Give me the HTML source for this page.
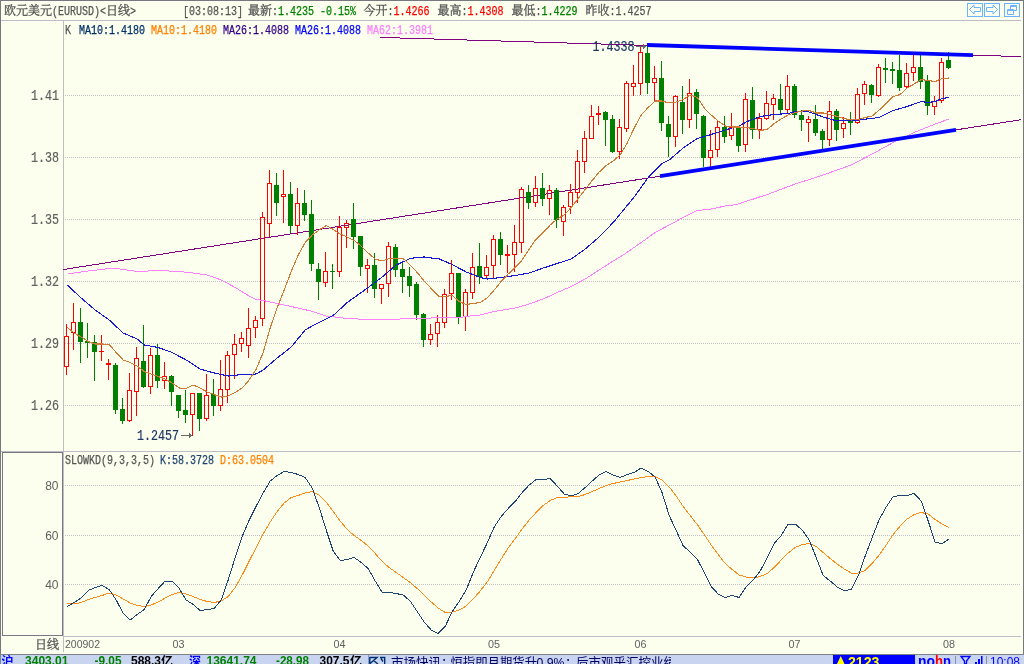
<!DOCTYPE html>
<html lang="zh-CN"><head><meta charset="utf-8"><title>欧元美元(EURUSD) 日线</title>
<style>
html,body{margin:0;padding:0;background:#FCFEEE;width:1024px;height:664px;overflow:hidden}
svg{display:block;position:absolute;left:0;top:0}
text{white-space:pre}
.m12{font-family:"Liberation Mono",monospace;font-size:12px;stroke-width:.25px}
.m14{font-family:"Liberation Mono",monospace;font-size:14px;stroke-width:.2px}
.c12{font-family:"Liberation Serif","Noto Serif CJK SC",serif;font-size:12px;stroke-width:.3px}
.c13{font-family:"Liberation Sans","Noto Sans CJK SC",sans-serif;font-size:12.5px}
.cb12{font-family:"Liberation Sans","Noto Sans CJK SC",sans-serif;font-size:12px;font-weight:bold}
.a12{font-family:"Liberation Sans",sans-serif;font-size:12px}
.a11{font-family:"Liberation Sans",sans-serif;font-size:11px}
.b12{font-family:"Liberation Sans",sans-serif;font-size:12px;font-weight:bold}
.b13{font-family:"Liberation Sans",sans-serif;font-size:13px;font-weight:bold}
.b14{font-family:"Liberation Sans",sans-serif;font-size:14px;font-weight:bold}
</style></head><body>
<svg width="1024" height="664" viewBox="0 0 1024 664">
<rect width="1024" height="664" fill="#FCFEEE"/>
<g shape-rendering="crispEdges">
<rect x="0" y="0" width="1024" height="1" fill="#77777F"/>
<rect x="0" y="0" width="1" height="655" fill="#77777F"/>
<rect x="1023" y="0" width="1" height="655" fill="#77777F"/>
<rect x="1" y="20" width="1020" height="1" fill="#BDBDC5"/>
<rect x="1" y="451" width="1020" height="1" fill="#BDBDC5"/>
<rect x="63" y="636" width="958" height="1" fill="#BDBDC5"/>
<rect x="63" y="21" width="1" height="631" fill="#BDBDC5"/>
<rect x="2.5" y="452.5" width="60" height="183" fill="none" stroke="#77777F" stroke-width="1"/>
<line x1="65" y1="95.5" x2="1021" y2="95.5" stroke="#C0C0C8" stroke-width="1" stroke-dasharray="1 1"/>
<line x1="65" y1="157.5" x2="1021" y2="157.5" stroke="#C0C0C8" stroke-width="1" stroke-dasharray="1 1"/>
<line x1="65" y1="219.5" x2="1021" y2="219.5" stroke="#C0C0C8" stroke-width="1" stroke-dasharray="1 1"/>
<line x1="65" y1="281.5" x2="1021" y2="281.5" stroke="#C0C0C8" stroke-width="1" stroke-dasharray="1 1"/>
<line x1="65" y1="343.5" x2="1021" y2="343.5" stroke="#C0C0C8" stroke-width="1" stroke-dasharray="1 1"/>
<line x1="65" y1="405.5" x2="1021" y2="405.5" stroke="#C0C0C8" stroke-width="1" stroke-dasharray="1 1"/>
<line x1="65" y1="485.5" x2="1021" y2="485.5" stroke="#C0C0C8" stroke-width="1" stroke-dasharray="1 1"/>
<line x1="65" y1="535.5" x2="1021" y2="535.5" stroke="#C0C0C8" stroke-width="1" stroke-dasharray="1 1"/>
<line x1="65" y1="584.5" x2="1021" y2="584.5" stroke="#C0C0C8" stroke-width="1" stroke-dasharray="1 1"/>
</g>
<g shape-rendering="crispEdges" fill="none">
<line x1="63.5" y1="269.5" x2="1021" y2="119.7" stroke="#800080" stroke-width="1"/>
<line x1="380" y1="37.4" x2="1021" y2="56.6" stroke="#800080" stroke-width="1"/>
</g>
<g shape-rendering="crispEdges">
<rect x="66" y="324" width="1" height="12" fill="#FF0000"/>
<rect x="66" y="367" width="1" height="8" fill="#FF0000"/>
<rect x="64.5" y="336.5" width="4" height="30" fill="none" stroke="#FF0000"/>
<rect x="73" y="303" width="1" height="19" fill="#FF0000"/>
<rect x="73" y="333" width="1" height="17" fill="#FF0000"/>
<rect x="71.5" y="322.5" width="4" height="10" fill="none" stroke="#FF0000"/>
<rect x="80" y="308" width="1" height="55" fill="#008000"/>
<rect x="78" y="322" width="5" height="20" fill="#008000"/>
<rect x="87" y="323" width="1" height="35" fill="#008000"/>
<rect x="85" y="341" width="5" height="2" fill="#008000"/>
<rect x="94" y="335" width="1" height="46" fill="#008000"/>
<rect x="92" y="342" width="5" height="10" fill="#008000"/>
<rect x="101" y="335" width="1" height="16" fill="#FF0000"/>
<rect x="101" y="352" width="1" height="9" fill="#FF0000"/>
<rect x="99" y="351" width="5" height="1" fill="#FF0000"/>
<rect x="108" y="359" width="1" height="4" fill="#FF0000"/>
<rect x="108" y="365" width="1" height="15" fill="#FF0000"/>
<rect x="106" y="363" width="5" height="2" fill="#FF0000"/>
<rect x="115" y="363" width="1" height="51" fill="#008000"/>
<rect x="113" y="365" width="5" height="45" fill="#008000"/>
<rect x="122" y="398" width="1" height="26" fill="#008000"/>
<rect x="120" y="409" width="5" height="12" fill="#008000"/>
<rect x="129" y="373" width="1" height="17" fill="#FF0000"/>
<rect x="129" y="421" width="1" height="1" fill="#FF0000"/>
<rect x="127.5" y="390.5" width="4" height="30" fill="none" stroke="#FF0000"/>
<rect x="136" y="347" width="1" height="11" fill="#FF0000"/>
<rect x="136" y="392" width="1" height="24" fill="#FF0000"/>
<rect x="134.5" y="358.5" width="4" height="33" fill="none" stroke="#FF0000"/>
<rect x="143" y="325" width="1" height="63" fill="#008000"/>
<rect x="141" y="361" width="5" height="26" fill="#008000"/>
<rect x="150" y="348" width="1" height="7" fill="#FF0000"/>
<rect x="150" y="387" width="1" height="7" fill="#FF0000"/>
<rect x="148.5" y="355.5" width="4" height="31" fill="none" stroke="#FF0000"/>
<rect x="157" y="344" width="1" height="44" fill="#008000"/>
<rect x="155" y="355" width="5" height="26" fill="#008000"/>
<rect x="164" y="362" width="1" height="14" fill="#FF0000"/>
<rect x="164" y="381" width="1" height="8" fill="#FF0000"/>
<rect x="162.5" y="376.5" width="4" height="4" fill="none" stroke="#FF0000"/>
<rect x="171" y="375" width="1" height="31" fill="#008000"/>
<rect x="169" y="376" width="5" height="16" fill="#008000"/>
<rect x="178" y="395" width="1" height="23" fill="#008000"/>
<rect x="176" y="395" width="5" height="16" fill="#008000"/>
<rect x="185" y="390" width="1" height="33" fill="#008000"/>
<rect x="183" y="410" width="5" height="5" fill="#008000"/>
<rect x="192" y="415" width="1" height="21" fill="#FF0000"/>
<rect x="190.5" y="393.5" width="4" height="21" fill="none" stroke="#FF0000"/>
<rect x="199" y="393" width="1" height="38" fill="#008000"/>
<rect x="197" y="393" width="5" height="26" fill="#008000"/>
<rect x="206" y="374" width="1" height="21" fill="#FF0000"/>
<rect x="206" y="419" width="1" height="2" fill="#FF0000"/>
<rect x="204.5" y="395.5" width="4" height="23" fill="none" stroke="#FF0000"/>
<rect x="213" y="379" width="1" height="37" fill="#008000"/>
<rect x="211" y="394" width="5" height="12" fill="#008000"/>
<rect x="220" y="360" width="1" height="29" fill="#FF0000"/>
<rect x="220" y="406" width="1" height="5" fill="#FF0000"/>
<rect x="218.5" y="389.5" width="4" height="16" fill="none" stroke="#FF0000"/>
<rect x="227" y="351" width="1" height="4" fill="#FF0000"/>
<rect x="227" y="390" width="1" height="13" fill="#FF0000"/>
<rect x="225.5" y="355.5" width="4" height="34" fill="none" stroke="#FF0000"/>
<rect x="234" y="334" width="1" height="10" fill="#FF0000"/>
<rect x="234" y="355" width="1" height="24" fill="#FF0000"/>
<rect x="232.5" y="344.5" width="4" height="10" fill="none" stroke="#FF0000"/>
<rect x="241" y="332" width="1" height="6" fill="#FF0000"/>
<rect x="241" y="344" width="1" height="8" fill="#FF0000"/>
<rect x="239.5" y="338.5" width="4" height="5" fill="none" stroke="#FF0000"/>
<rect x="248" y="308" width="1" height="20" fill="#FF0000"/>
<rect x="248" y="346" width="1" height="12" fill="#FF0000"/>
<rect x="246.5" y="328.5" width="4" height="17" fill="none" stroke="#FF0000"/>
<rect x="255" y="316" width="1" height="4" fill="#FF0000"/>
<rect x="255" y="328" width="1" height="10" fill="#FF0000"/>
<rect x="253.5" y="320.5" width="4" height="7" fill="none" stroke="#FF0000"/>
<rect x="262" y="212" width="1" height="5" fill="#FF0000"/>
<rect x="262" y="319" width="1" height="7" fill="#FF0000"/>
<rect x="260.5" y="217.5" width="4" height="101" fill="none" stroke="#FF0000"/>
<rect x="269" y="170" width="1" height="13" fill="#FF0000"/>
<rect x="269" y="224" width="1" height="13" fill="#FF0000"/>
<rect x="267.5" y="183.5" width="4" height="40" fill="none" stroke="#FF0000"/>
<rect x="276" y="173" width="1" height="43" fill="#008000"/>
<rect x="274" y="185" width="5" height="18" fill="#008000"/>
<rect x="283" y="170" width="1" height="24" fill="#FF0000"/>
<rect x="283" y="197" width="1" height="26" fill="#FF0000"/>
<rect x="281.5" y="194.5" width="4" height="2" fill="none" stroke="#FF0000"/>
<rect x="290" y="182" width="1" height="51" fill="#008000"/>
<rect x="288" y="194" width="5" height="32" fill="#008000"/>
<rect x="297" y="188" width="1" height="15" fill="#FF0000"/>
<rect x="297" y="226" width="1" height="9" fill="#FF0000"/>
<rect x="295.5" y="203.5" width="4" height="22" fill="none" stroke="#FF0000"/>
<rect x="304" y="190" width="1" height="31" fill="#008000"/>
<rect x="302" y="203" width="5" height="12" fill="#008000"/>
<rect x="311" y="200" width="1" height="71" fill="#008000"/>
<rect x="309" y="214" width="5" height="50" fill="#008000"/>
<rect x="318" y="263" width="1" height="37" fill="#008000"/>
<rect x="316" y="269" width="5" height="13" fill="#008000"/>
<rect x="325" y="252" width="1" height="19" fill="#FF0000"/>
<rect x="325" y="283" width="1" height="4" fill="#FF0000"/>
<rect x="323.5" y="271.5" width="4" height="11" fill="none" stroke="#FF0000"/>
<rect x="332" y="264" width="1" height="25" fill="#008000"/>
<rect x="330" y="271" width="5" height="1" fill="#008000"/>
<rect x="339" y="216" width="1" height="11" fill="#FF0000"/>
<rect x="339" y="272" width="1" height="5" fill="#FF0000"/>
<rect x="337.5" y="227.5" width="4" height="44" fill="none" stroke="#FF0000"/>
<rect x="346" y="220" width="1" height="3" fill="#FF0000"/>
<rect x="346" y="228" width="1" height="20" fill="#FF0000"/>
<rect x="344.5" y="223.5" width="4" height="4" fill="none" stroke="#FF0000"/>
<rect x="353" y="203" width="1" height="46" fill="#008000"/>
<rect x="351" y="219" width="5" height="18" fill="#008000"/>
<rect x="360" y="236" width="1" height="40" fill="#008000"/>
<rect x="358" y="236" width="5" height="31" fill="#008000"/>
<rect x="367" y="259" width="1" height="6" fill="#FF0000"/>
<rect x="367" y="269" width="1" height="24" fill="#FF0000"/>
<rect x="365.5" y="265.5" width="4" height="3" fill="none" stroke="#FF0000"/>
<rect x="374" y="253" width="1" height="45" fill="#008000"/>
<rect x="372" y="265" width="5" height="24" fill="#008000"/>
<rect x="381" y="289" width="1" height="15" fill="#FF0000"/>
<rect x="379.5" y="284.5" width="4" height="4" fill="none" stroke="#FF0000"/>
<rect x="388" y="242" width="1" height="4" fill="#FF0000"/>
<rect x="388" y="284" width="1" height="13" fill="#FF0000"/>
<rect x="386.5" y="246.5" width="4" height="37" fill="none" stroke="#FF0000"/>
<rect x="395" y="244" width="1" height="33" fill="#008000"/>
<rect x="393" y="247" width="5" height="23" fill="#008000"/>
<rect x="402" y="262" width="1" height="31" fill="#008000"/>
<rect x="400" y="269" width="5" height="8" fill="#008000"/>
<rect x="409" y="267" width="1" height="30" fill="#008000"/>
<rect x="407" y="276" width="5" height="10" fill="#008000"/>
<rect x="416" y="282" width="1" height="38" fill="#008000"/>
<rect x="414" y="284" width="5" height="31" fill="#008000"/>
<rect x="423" y="313" width="1" height="34" fill="#008000"/>
<rect x="421" y="314" width="5" height="26" fill="#008000"/>
<rect x="430" y="324" width="1" height="10" fill="#FF0000"/>
<rect x="430" y="340" width="1" height="5" fill="#FF0000"/>
<rect x="428.5" y="334.5" width="4" height="5" fill="none" stroke="#FF0000"/>
<rect x="437" y="315" width="1" height="7" fill="#FF0000"/>
<rect x="437" y="334" width="1" height="13" fill="#FF0000"/>
<rect x="435.5" y="322.5" width="4" height="11" fill="none" stroke="#FF0000"/>
<rect x="444" y="289" width="1" height="5" fill="#FF0000"/>
<rect x="444" y="323" width="1" height="5" fill="#FF0000"/>
<rect x="442.5" y="294.5" width="4" height="28" fill="none" stroke="#FF0000"/>
<rect x="451" y="260" width="1" height="13" fill="#FF0000"/>
<rect x="451" y="294" width="1" height="6" fill="#FF0000"/>
<rect x="449.5" y="273.5" width="4" height="20" fill="none" stroke="#FF0000"/>
<rect x="458" y="273" width="1" height="51" fill="#008000"/>
<rect x="456" y="273" width="5" height="44" fill="#008000"/>
<rect x="465" y="289" width="1" height="3" fill="#FF0000"/>
<rect x="465" y="317" width="1" height="14" fill="#FF0000"/>
<rect x="463.5" y="292.5" width="4" height="24" fill="none" stroke="#FF0000"/>
<rect x="472" y="253" width="1" height="14" fill="#FF0000"/>
<rect x="472" y="293" width="1" height="6" fill="#FF0000"/>
<rect x="470.5" y="267.5" width="4" height="25" fill="none" stroke="#FF0000"/>
<rect x="479" y="243" width="1" height="41" fill="#008000"/>
<rect x="477" y="266" width="5" height="11" fill="#008000"/>
<rect x="486" y="255" width="1" height="12" fill="#FF0000"/>
<rect x="486" y="276" width="1" height="3" fill="#FF0000"/>
<rect x="484.5" y="267.5" width="4" height="8" fill="none" stroke="#FF0000"/>
<rect x="493" y="235" width="1" height="4" fill="#FF0000"/>
<rect x="493" y="266" width="1" height="12" fill="#FF0000"/>
<rect x="491.5" y="239.5" width="4" height="26" fill="none" stroke="#FF0000"/>
<rect x="500" y="232" width="1" height="33" fill="#008000"/>
<rect x="498" y="239" width="5" height="16" fill="#008000"/>
<rect x="507" y="245" width="1" height="9" fill="#FF0000"/>
<rect x="507" y="256" width="1" height="17" fill="#FF0000"/>
<rect x="505" y="254" width="5" height="2" fill="#FF0000"/>
<rect x="514" y="225" width="1" height="17" fill="#FF0000"/>
<rect x="514" y="255" width="1" height="17" fill="#FF0000"/>
<rect x="512.5" y="242.5" width="4" height="12" fill="none" stroke="#FF0000"/>
<rect x="521" y="187" width="1" height="2" fill="#FF0000"/>
<rect x="521" y="243" width="1" height="10" fill="#FF0000"/>
<rect x="519.5" y="189.5" width="4" height="53" fill="none" stroke="#FF0000"/>
<rect x="528" y="185" width="1" height="24" fill="#008000"/>
<rect x="526" y="192" width="5" height="11" fill="#008000"/>
<rect x="535" y="176" width="1" height="12" fill="#FF0000"/>
<rect x="535" y="203" width="1" height="4" fill="#FF0000"/>
<rect x="533.5" y="188.5" width="4" height="14" fill="none" stroke="#FF0000"/>
<rect x="542" y="173" width="1" height="33" fill="#008000"/>
<rect x="540" y="188" width="5" height="11" fill="#008000"/>
<rect x="549" y="185" width="1" height="5" fill="#FF0000"/>
<rect x="549" y="199" width="1" height="16" fill="#FF0000"/>
<rect x="547.5" y="190.5" width="4" height="8" fill="none" stroke="#FF0000"/>
<rect x="556" y="188" width="1" height="40" fill="#008000"/>
<rect x="554" y="190" width="5" height="30" fill="#008000"/>
<rect x="563" y="205" width="1" height="2" fill="#FF0000"/>
<rect x="563" y="222" width="1" height="14" fill="#FF0000"/>
<rect x="561.5" y="207.5" width="4" height="14" fill="none" stroke="#FF0000"/>
<rect x="570" y="184" width="1" height="8" fill="#FF0000"/>
<rect x="570" y="207" width="1" height="7" fill="#FF0000"/>
<rect x="568.5" y="192.5" width="4" height="14" fill="none" stroke="#FF0000"/>
<rect x="577" y="150" width="1" height="11" fill="#FF0000"/>
<rect x="577" y="193" width="1" height="10" fill="#FF0000"/>
<rect x="575.5" y="161.5" width="4" height="31" fill="none" stroke="#FF0000"/>
<rect x="584" y="131" width="1" height="7" fill="#FF0000"/>
<rect x="584" y="162" width="1" height="11" fill="#FF0000"/>
<rect x="582.5" y="138.5" width="4" height="23" fill="none" stroke="#FF0000"/>
<rect x="591" y="105" width="1" height="11" fill="#FF0000"/>
<rect x="589.5" y="116.5" width="4" height="22" fill="none" stroke="#FF0000"/>
<rect x="598" y="106" width="1" height="7" fill="#FF0000"/>
<rect x="598" y="115" width="1" height="10" fill="#FF0000"/>
<rect x="596" y="113" width="5" height="2" fill="#FF0000"/>
<rect x="605" y="111" width="1" height="35" fill="#008000"/>
<rect x="603" y="112" width="5" height="8" fill="#008000"/>
<rect x="612" y="115" width="1" height="38" fill="#008000"/>
<rect x="610" y="119" width="5" height="33" fill="#008000"/>
<rect x="619" y="119" width="1" height="8" fill="#FF0000"/>
<rect x="619" y="152" width="1" height="7" fill="#FF0000"/>
<rect x="617.5" y="127.5" width="4" height="24" fill="none" stroke="#FF0000"/>
<rect x="626" y="81" width="1" height="2" fill="#FF0000"/>
<rect x="626" y="129" width="1" height="3" fill="#FF0000"/>
<rect x="624.5" y="83.5" width="4" height="45" fill="none" stroke="#FF0000"/>
<rect x="633" y="65" width="1" height="18" fill="#FF0000"/>
<rect x="633" y="87" width="1" height="9" fill="#FF0000"/>
<rect x="631.5" y="83.5" width="4" height="3" fill="none" stroke="#FF0000"/>
<rect x="640" y="47" width="1" height="5" fill="#FF0000"/>
<rect x="640" y="84" width="1" height="11" fill="#FF0000"/>
<rect x="638.5" y="52.5" width="4" height="31" fill="none" stroke="#FF0000"/>
<rect x="647" y="45" width="1" height="49" fill="#008000"/>
<rect x="645" y="53" width="5" height="30" fill="#008000"/>
<rect x="654" y="66" width="1" height="12" fill="#FF0000"/>
<rect x="654" y="83" width="1" height="18" fill="#FF0000"/>
<rect x="652.5" y="78.5" width="4" height="4" fill="none" stroke="#FF0000"/>
<rect x="661" y="61" width="1" height="70" fill="#008000"/>
<rect x="659" y="78" width="5" height="45" fill="#008000"/>
<rect x="668" y="116" width="1" height="41" fill="#008000"/>
<rect x="666" y="124" width="5" height="13" fill="#008000"/>
<rect x="675" y="95" width="1" height="1" fill="#FF0000"/>
<rect x="675" y="137" width="1" height="10" fill="#FF0000"/>
<rect x="673.5" y="96.5" width="4" height="40" fill="none" stroke="#FF0000"/>
<rect x="682" y="86" width="1" height="48" fill="#008000"/>
<rect x="680" y="102" width="5" height="18" fill="#008000"/>
<rect x="689" y="79" width="1" height="14" fill="#FF0000"/>
<rect x="689" y="120" width="1" height="8" fill="#FF0000"/>
<rect x="687.5" y="93.5" width="4" height="26" fill="none" stroke="#FF0000"/>
<rect x="696" y="89" width="1" height="40" fill="#008000"/>
<rect x="694" y="92" width="5" height="22" fill="#008000"/>
<rect x="703" y="115" width="1" height="52" fill="#008000"/>
<rect x="701" y="116" width="5" height="42" fill="#008000"/>
<rect x="710" y="130" width="1" height="20" fill="#FF0000"/>
<rect x="710" y="158" width="1" height="9" fill="#FF0000"/>
<rect x="708.5" y="150.5" width="4" height="7" fill="none" stroke="#FF0000"/>
<rect x="717" y="121" width="1" height="6" fill="#FF0000"/>
<rect x="717" y="150" width="1" height="7" fill="#FF0000"/>
<rect x="715.5" y="127.5" width="4" height="22" fill="none" stroke="#FF0000"/>
<rect x="724" y="116" width="1" height="27" fill="#008000"/>
<rect x="722" y="127" width="5" height="10" fill="#008000"/>
<rect x="731" y="113" width="1" height="14" fill="#FF0000"/>
<rect x="731" y="136" width="1" height="4" fill="#FF0000"/>
<rect x="729.5" y="127.5" width="4" height="8" fill="none" stroke="#FF0000"/>
<rect x="738" y="127" width="1" height="25" fill="#008000"/>
<rect x="736" y="128" width="5" height="18" fill="#008000"/>
<rect x="745" y="93" width="1" height="6" fill="#FF0000"/>
<rect x="745" y="145" width="1" height="7" fill="#FF0000"/>
<rect x="743.5" y="99.5" width="4" height="45" fill="none" stroke="#FF0000"/>
<rect x="752" y="87" width="1" height="52" fill="#008000"/>
<rect x="750" y="100" width="5" height="30" fill="#008000"/>
<rect x="759" y="113" width="1" height="5" fill="#FF0000"/>
<rect x="759" y="130" width="1" height="9" fill="#FF0000"/>
<rect x="757.5" y="118.5" width="4" height="11" fill="none" stroke="#FF0000"/>
<rect x="766" y="91" width="1" height="12" fill="#FF0000"/>
<rect x="766" y="119" width="1" height="1" fill="#FF0000"/>
<rect x="764.5" y="103.5" width="4" height="15" fill="none" stroke="#FF0000"/>
<rect x="773" y="94" width="1" height="4" fill="#FF0000"/>
<rect x="773" y="105" width="1" height="15" fill="#FF0000"/>
<rect x="771.5" y="98.5" width="4" height="6" fill="none" stroke="#FF0000"/>
<rect x="780" y="84" width="1" height="31" fill="#008000"/>
<rect x="778" y="99" width="5" height="11" fill="#008000"/>
<rect x="787" y="75" width="1" height="11" fill="#FF0000"/>
<rect x="787" y="110" width="1" height="4" fill="#FF0000"/>
<rect x="785.5" y="86.5" width="4" height="23" fill="none" stroke="#FF0000"/>
<rect x="794" y="84" width="1" height="34" fill="#008000"/>
<rect x="792" y="86" width="5" height="29" fill="#008000"/>
<rect x="801" y="110" width="1" height="21" fill="#008000"/>
<rect x="799" y="115" width="5" height="5" fill="#008000"/>
<rect x="808" y="116" width="1" height="3" fill="#FF0000"/>
<rect x="808" y="123" width="1" height="19" fill="#FF0000"/>
<rect x="806.5" y="119.5" width="4" height="3" fill="none" stroke="#FF0000"/>
<rect x="815" y="105" width="1" height="31" fill="#008000"/>
<rect x="813" y="119" width="5" height="14" fill="#008000"/>
<rect x="822" y="129" width="1" height="20" fill="#008000"/>
<rect x="820" y="131" width="5" height="9" fill="#008000"/>
<rect x="829" y="101" width="1" height="10" fill="#FF0000"/>
<rect x="829" y="140" width="1" height="6" fill="#FF0000"/>
<rect x="827.5" y="111.5" width="4" height="28" fill="none" stroke="#FF0000"/>
<rect x="836" y="109" width="1" height="32" fill="#008000"/>
<rect x="834" y="111" width="5" height="19" fill="#008000"/>
<rect x="843" y="117" width="1" height="6" fill="#FF0000"/>
<rect x="843" y="129" width="1" height="9" fill="#FF0000"/>
<rect x="841.5" y="123.5" width="4" height="5" fill="none" stroke="#FF0000"/>
<rect x="850" y="112" width="1" height="23" fill="#008000"/>
<rect x="848" y="121" width="5" height="2" fill="#008000"/>
<rect x="857" y="88" width="1" height="6" fill="#FF0000"/>
<rect x="857" y="123" width="1" height="1" fill="#FF0000"/>
<rect x="855.5" y="94.5" width="4" height="28" fill="none" stroke="#FF0000"/>
<rect x="864" y="81" width="1" height="3" fill="#FF0000"/>
<rect x="864" y="94" width="1" height="11" fill="#FF0000"/>
<rect x="862.5" y="84.5" width="4" height="9" fill="none" stroke="#FF0000"/>
<rect x="871" y="84" width="1" height="19" fill="#008000"/>
<rect x="869" y="85" width="5" height="10" fill="#008000"/>
<rect x="878" y="64" width="1" height="3" fill="#FF0000"/>
<rect x="878" y="96" width="1" height="1" fill="#FF0000"/>
<rect x="876.5" y="67.5" width="4" height="28" fill="none" stroke="#FF0000"/>
<rect x="885" y="58" width="1" height="25" fill="#008000"/>
<rect x="883" y="68" width="5" height="2" fill="#008000"/>
<rect x="892" y="62" width="1" height="22" fill="#008000"/>
<rect x="890" y="69" width="5" height="2" fill="#008000"/>
<rect x="899" y="55" width="1" height="36" fill="#008000"/>
<rect x="897" y="70" width="5" height="18" fill="#008000"/>
<rect x="906" y="63" width="1" height="10" fill="#FF0000"/>
<rect x="906" y="87" width="1" height="2" fill="#FF0000"/>
<rect x="904.5" y="73.5" width="4" height="13" fill="none" stroke="#FF0000"/>
<rect x="913" y="55" width="1" height="12" fill="#FF0000"/>
<rect x="913" y="73" width="1" height="8" fill="#FF0000"/>
<rect x="911.5" y="67.5" width="4" height="5" fill="none" stroke="#FF0000"/>
<rect x="920" y="55" width="1" height="34" fill="#008000"/>
<rect x="918" y="67" width="5" height="15" fill="#008000"/>
<rect x="927" y="75" width="1" height="40" fill="#008000"/>
<rect x="925" y="81" width="5" height="25" fill="#008000"/>
<rect x="934" y="96" width="1" height="5" fill="#FF0000"/>
<rect x="934" y="107" width="1" height="8" fill="#FF0000"/>
<rect x="932.5" y="101.5" width="4" height="5" fill="none" stroke="#FF0000"/>
<rect x="941" y="58" width="1" height="4" fill="#FF0000"/>
<rect x="941" y="101" width="1" height="2" fill="#FF0000"/>
<rect x="939.5" y="62.5" width="4" height="38" fill="none" stroke="#FF0000"/>
<rect x="948" y="52" width="1" height="17" fill="#008000"/>
<rect x="946" y="60" width="5" height="8" fill="#008000"/>
</g>
<polyline points="67.7,274.0 88.2,271.0 109.2,268.5 116.2,268.5 137.2,271.5 158.2,270.5 179.2,271.5 193.2,273.0 207.2,275.0 221.2,280.0 235.2,287.5 249.2,296.0 256.2,299.5 263.2,300.5 284.2,305.0 298.2,308.0 312.7,311.5 326.2,316.0 347.2,318.5 368.2,319.5 389.2,319.5 410.2,318.5 431.2,318.0 459.2,317.5 473.2,315.5 480.2,315.0 494.2,311.5 515.2,308.0 529.2,304.0 543.2,299.0 557.2,292.5 571.2,286.5 585.2,279.0 599.2,270.0 613.2,261.0 624.7,254.0 641.2,242.5 655.2,232.5 669.2,225.0 683.2,217.5 697.2,210.5 711.2,209.0 725.2,206.0 736.7,204.5 768.7,194.0 795.2,184.0 823.2,175.0 851.2,165.0 872.2,154.0 893.2,142.5 914.2,132.5 935.2,124.0 949.2,119.0" fill="none" stroke="#FF80FF" stroke-width="1" shape-rendering="crispEdges"/>
<polyline points="67.2,285.0 81.2,298.0 95.2,310.0 109.2,320.0 123.2,333.0 137.2,339.0 144.2,345.0 158.2,347.5 172.2,352.5 186.2,360.0 200.2,369.0 214.2,373.0 228.2,376.0 242.2,374.5 256.2,374.0 263.2,370.0 277.2,358.0 291.2,347.0 305.2,330.0 312.2,326.0 333.2,315.5 347.2,302.5 368.2,287.5 382.2,277.0 396.2,265.0 410.2,258.5 417.2,257.5 424.2,257.0 431.2,258.0 438.2,258.5 452.2,264.5 466.2,272.0 480.2,277.5 487.2,279.0 501.2,277.5 515.2,275.5 529.2,273.0 543.2,268.0 557.2,263.5 571.2,259.0 585.2,249.0 599.2,237.0 613.2,222.5 634.2,197.0 648.2,177.5 662.2,163.5 669.2,160.0 683.2,148.0 697.2,138.5 711.2,134.5 725.2,130.0 739.2,126.0 746.2,122.0 760.2,116.5 774.2,114.5 788.2,113.5 795.2,111.5 802.2,111.5 809.2,112.0 816.2,114.5 823.2,117.0 837.2,121.0 851.2,120.5 858.2,120.0 879.2,117.5 893.2,110.5 907.2,106.5 921.2,101.5 928.2,102.5 935.2,101.5 942.2,98.5 949.2,97.5" fill="none" stroke="#1818D0" stroke-width="1.1" shape-rendering="crispEdges"/>
<polyline points="67.2,327.5 74.2,333.0 81.2,337.0 88.2,341.5 95.2,344.0 102.2,344.0 109.2,344.5 116.2,352.5 123.2,360.0 130.2,362.5 137.2,366.0 144.2,371.5 151.2,374.0 158.2,376.5 165.2,379.0 172.2,383.0 179.2,388.0 186.2,388.5 193.2,385.0 200.2,388.0 207.2,392.0 214.2,394.5 221.2,397.0 228.2,396.0 235.2,392.5 242.2,388.0 249.2,380.0 256.2,369.0 263.2,352.5 270.2,328.0 277.2,307.5 284.2,290.0 291.2,271.5 298.2,255.0 305.2,242.5 312.2,235.0 319.2,230.0 326.2,225.5 333.2,229.5 340.2,234.0 347.2,237.0 354.2,240.5 361.2,246.0 368.2,253.0 375.2,259.0 382.2,261.0 389.2,258.5 396.2,258.5 403.2,258.5 410.2,265.0 417.2,272.5 424.2,281.0 431.2,288.5 438.2,296.0 445.2,296.5 452.2,295.5 459.2,301.5 466.2,304.5 473.2,303.5 480.2,302.5 487.2,298.0 494.2,290.0 501.2,281.5 508.2,274.0 515.2,267.5 522.2,260.0 529.2,249.0 536.2,239.0 543.2,232.5 550.2,225.0 557.2,219.0 564.2,215.0 571.2,207.5 578.2,198.5 585.2,189.5 592.2,180.5 599.2,172.0 606.2,165.5 613.2,161.0 620.2,155.0 627.2,143.0 634.2,128.0 641.2,115.0 648.2,107.5 655.2,101.0 662.2,101.0 669.2,103.0 676.2,102.0 683.2,99.5 690.2,95.0 697.2,97.5 704.2,108.0 711.2,115.0 718.2,121.0 725.2,126.0 732.2,127.0 739.2,127.0 746.2,127.5 753.2,128.5 760.2,130.5 767.2,129.5 774.2,123.5 781.2,119.0 788.2,115.0 795.2,112.5 802.2,111.0 809.2,110.5 816.2,113.0 823.2,113.0 830.2,114.5 837.2,116.5 844.2,118.5 851.2,120.0 858.2,119.5 865.2,117.5 872.2,116.0 879.2,110.0 886.2,103.5 893.2,96.5 900.2,94.5 907.2,88.0 914.2,84.0 921.2,79.5 928.2,80.5 935.2,81.5 942.2,78.5 949.2,78.0" fill="none" stroke="#D07A38" stroke-width="1.1" shape-rendering="crispEdges"/>
<line x1="660" y1="176.1" x2="956" y2="129.8" stroke="#0000FF" stroke-width="3.8"/>
<line x1="647" y1="45" x2="973" y2="55.2" stroke="#0000FF" stroke-width="3.8"/>
<polyline points="67.2,603.5 74.2,604.0 81.2,602.5 88.2,599.5 95.2,597.5 102.2,595.5 109.2,593.0 116.2,595.0 123.2,599.0 130.2,603.0 137.2,605.5 144.2,606.5 151.2,605.0 158.2,602.0 165.2,598.0 172.2,594.5 179.2,592.5 186.2,594.0 193.2,596.5 200.2,599.5 207.2,601.5 214.2,602.5 221.2,601.0 228.2,596.5 235.2,587.5 242.2,575.0 249.2,561.0 256.2,547.5 263.2,534.0 270.2,522.0 277.2,511.5 284.2,503.0 291.2,497.5 298.2,495.5 305.2,493.0 312.2,491.5 319.2,495.0 326.2,502.0 333.2,511.5 340.2,521.0 347.2,529.5 354.2,535.5 361.2,540.5 368.2,546.0 375.2,553.5 382.2,561.5 389.2,567.5 396.2,572.5 403.2,577.5 410.2,582.5 417.2,588.5 424.2,595.0 431.2,602.0 438.2,608.0 445.2,612.5 452.2,612.0 459.2,610.0 466.2,606.0 473.2,599.0 480.2,591.0 487.2,582.0 494.2,570.5 501.2,559.0 508.2,548.0 515.2,538.5 522.2,529.0 529.2,520.0 536.2,512.5 543.2,505.5 550.2,500.5 557.2,497.5 564.2,497.5 571.2,496.5 578.2,496.5 585.2,494.5 592.2,491.5 599.2,488.5 606.2,485.5 613.2,483.5 620.2,482.0 627.2,480.5 634.2,479.0 641.2,477.5 648.2,476.5 655.2,476.5 662.2,480.0 669.2,487.0 676.2,496.0 683.2,506.5 690.2,515.5 697.2,524.5 704.2,534.5 711.2,545.0 718.2,554.5 725.2,563.5 732.2,569.5 739.2,575.0 746.2,577.0 753.2,578.0 760.2,576.5 767.2,573.5 774.2,567.5 781.2,560.0 788.2,553.0 795.2,547.5 802.2,544.5 809.2,543.5 816.2,546.5 823.2,552.5 830.2,558.5 837.2,564.0 844.2,569.0 851.2,573.0 858.2,573.0 865.2,570.5 872.2,563.5 879.2,555.0 886.2,545.0 893.2,534.5 900.2,526.0 907.2,519.0 914.2,514.5 921.2,512.5 928.2,514.0 935.2,519.5 942.2,524.0 949.2,527.5" fill="none" stroke="#FF8C1A" stroke-width="1" shape-rendering="crispEdges"/>
<polyline points="67.2,606.5 74.2,602.5 81.2,598.0 88.2,590.5 95.2,587.5 102.2,585.5 109.2,589.5 116.2,600.0 123.2,613.5 130.2,620.0 137.2,614.5 144.2,609.5 151.2,596.5 158.2,588.5 165.2,581.0 172.2,581.5 179.2,588.5 186.2,600.0 193.2,604.5 200.2,610.5 207.2,609.5 214.2,608.5 221.2,600.0 228.2,580.0 235.2,557.5 242.2,536.5 249.2,520.0 256.2,506.0 263.2,493.0 270.2,481.0 277.2,475.5 284.2,471.5 291.2,472.5 298.2,474.5 305.2,477.5 312.2,488.0 319.2,507.5 326.2,530.0 333.2,551.0 340.2,560.5 347.2,559.5 354.2,557.5 361.2,562.5 368.2,568.5 375.2,581.0 382.2,592.5 389.2,592.5 396.2,593.5 403.2,595.0 410.2,601.0 417.2,611.5 424.2,622.0 431.2,630.0 438.2,633.5 445.2,626.5 452.2,611.5 459.2,601.5 466.2,590.0 473.2,572.5 480.2,557.5 487.2,543.0 494.2,527.0 501.2,516.5 508.2,508.5 515.2,501.5 522.2,492.5 529.2,485.0 536.2,479.5 543.2,479.5 550.2,478.5 557.2,486.0 564.2,494.0 571.2,496.0 578.2,493.5 585.2,487.5 592.2,481.0 599.2,475.0 606.2,471.5 613.2,475.0 620.2,477.5 627.2,474.5 634.2,472.5 641.2,468.0 648.2,471.5 655.2,477.0 662.2,493.0 669.2,515.5 676.2,530.5 683.2,546.0 690.2,552.0 697.2,559.0 704.2,572.5 711.2,586.5 718.2,594.0 725.2,597.5 732.2,595.5 739.2,597.5 746.2,586.5 753.2,580.0 760.2,571.0 767.2,558.0 774.2,543.5 781.2,535.5 788.2,524.0 795.2,524.0 802.2,530.0 809.2,540.0 816.2,557.5 823.2,575.5 830.2,581.0 837.2,587.0 844.2,590.5 851.2,589.5 858.2,576.0 865.2,556.0 872.2,537.5 879.2,519.5 886.2,507.0 893.2,496.5 900.2,495.5 907.2,495.5 914.2,493.5 921.2,501.0 928.2,521.0 935.2,542.5 942.2,543.5 949.2,539.0" fill="none" stroke="#1F4470" stroke-width="1" shape-rendering="crispEdges"/>
<text x="4" y="15" class="c12" fill="#555555" textLength="48" lengthAdjust="spacingAndGlyphs" stroke="#555555">欧元美元</text>
<text x="52" y="15" class="m12" fill="#555555" textLength="54" lengthAdjust="spacingAndGlyphs" stroke="#555555">(EURUSD)&lt;</text>
<text x="106" y="15" class="c12" fill="#555555" textLength="24" lengthAdjust="spacingAndGlyphs" stroke="#555555">日线</text>
<text x="130" y="15" class="m12" fill="#555555" textLength="6" lengthAdjust="spacingAndGlyphs" stroke="#555555">&gt;</text>
<text x="183" y="15" class="m12" fill="#555555" textLength="60" lengthAdjust="spacingAndGlyphs" stroke="#555555">[03:08:13]</text>
<text x="248" y="15" class="c12" fill="#555555" textLength="24" lengthAdjust="spacingAndGlyphs" stroke="#555555">最新</text>
<text x="272" y="15" class="m12" fill="#555555" textLength="6" lengthAdjust="spacingAndGlyphs" stroke="#555555">:</text>
<text x="278" y="15" class="m12" fill="#008000" textLength="36" lengthAdjust="spacingAndGlyphs" stroke="#008000">1.4235</text>
<text x="320" y="15" class="m12" fill="#008000" textLength="36" lengthAdjust="spacingAndGlyphs" stroke="#008000">-0.15%</text>
<text x="363.5" y="15" class="c12" fill="#555555" textLength="24" lengthAdjust="spacingAndGlyphs" stroke="#555555">今开</text>
<text x="387.5" y="15" class="m12" fill="#555555" textLength="6" lengthAdjust="spacingAndGlyphs" stroke="#555555">:</text>
<text x="393.5" y="15" class="m12" fill="#FF0000" textLength="36" lengthAdjust="spacingAndGlyphs" stroke="#FF0000">1.4266</text>
<text x="437.5" y="15" class="c12" fill="#555555" textLength="24" lengthAdjust="spacingAndGlyphs" stroke="#555555">最高</text>
<text x="461.5" y="15" class="m12" fill="#555555" textLength="6" lengthAdjust="spacingAndGlyphs" stroke="#555555">:</text>
<text x="467.5" y="15" class="m12" fill="#FF0000" textLength="36" lengthAdjust="spacingAndGlyphs" stroke="#FF0000">1.4308</text>
<text x="511.5" y="15" class="c12" fill="#555555" textLength="24" lengthAdjust="spacingAndGlyphs" stroke="#555555">最低</text>
<text x="535.5" y="15" class="m12" fill="#555555" textLength="6" lengthAdjust="spacingAndGlyphs" stroke="#555555">:</text>
<text x="541.5" y="15" class="m12" fill="#008000" textLength="36" lengthAdjust="spacingAndGlyphs" stroke="#008000">1.4229</text>
<text x="585.5" y="15" class="c12" fill="#555555" textLength="24" lengthAdjust="spacingAndGlyphs" stroke="#555555">昨收</text>
<text x="609.5" y="15" class="m12" fill="#555555" textLength="6" lengthAdjust="spacingAndGlyphs" stroke="#555555">:</text>
<text x="615.5" y="15" class="m12" fill="#555555" textLength="36" lengthAdjust="spacingAndGlyphs" stroke="#555555">1.4257</text>
<text x="65" y="33.5" class="m12" fill="#555555" textLength="6" lengthAdjust="spacingAndGlyphs" stroke="#555555">K</text>
<text x="79" y="33.5" class="m12" fill="#00306A" textLength="66" lengthAdjust="spacingAndGlyphs" stroke="#00306A">MA10:1.4180</text>
<text x="151" y="33.5" class="m12" fill="#FF8000" textLength="66" lengthAdjust="spacingAndGlyphs" stroke="#FF8000">MA10:1.4180</text>
<text x="223" y="33.5" class="m12" fill="#330088" textLength="66" lengthAdjust="spacingAndGlyphs" stroke="#330088">MA26:1.4088</text>
<text x="295" y="33.5" class="m12" fill="#0000FF" textLength="66" lengthAdjust="spacingAndGlyphs" stroke="#0000FF">MA26:1.4088</text>
<text x="367" y="33.5" class="m12" fill="#FF80FF" textLength="66" lengthAdjust="spacingAndGlyphs" stroke="#FF80FF">MA62:1.3981</text>
<text x="31" y="100" class="m14" fill="#606060" textLength="28" lengthAdjust="spacingAndGlyphs" stroke="#606060">1.41</text>
<text x="31" y="162" class="m14" fill="#606060" textLength="28" lengthAdjust="spacingAndGlyphs" stroke="#606060">1.38</text>
<text x="31" y="224" class="m14" fill="#606060" textLength="28" lengthAdjust="spacingAndGlyphs" stroke="#606060">1.35</text>
<text x="31" y="286" class="m14" fill="#606060" textLength="28" lengthAdjust="spacingAndGlyphs" stroke="#606060">1.32</text>
<text x="31" y="348" class="m14" fill="#606060" textLength="28" lengthAdjust="spacingAndGlyphs" stroke="#606060">1.29</text>
<text x="31" y="410" class="m14" fill="#606060" textLength="28" lengthAdjust="spacingAndGlyphs" stroke="#606060">1.26</text>
<text x="592.5" y="51" class="m14" fill="#1F3864" textLength="42" lengthAdjust="spacingAndGlyphs" stroke="#1F3864">1.4338</text>
<text x="137" y="440" class="m14" fill="#1F3864" textLength="42" lengthAdjust="spacingAndGlyphs" stroke="#1F3864">1.2457</text>
<g stroke="#666666" stroke-width="1" fill="none" shape-rendering="crispEdges">
<path d="M636 46.5H645M643 44.5l2 2l-2 2"/>
<path d="M181 435.5H191M189 433.5l2 2l-2 2"/>
</g>
<text x="65" y="464" class="m12" fill="#555555" textLength="90" lengthAdjust="spacingAndGlyphs" stroke="#555555">SLOWKD(9,3,3,5)</text>
<text x="160" y="464" class="m12" fill="#1F4470" textLength="54" lengthAdjust="spacingAndGlyphs" stroke="#1F4470">K:58.3728</text>
<text x="220" y="464" class="m12" fill="#FF8000" textLength="54" lengthAdjust="spacingAndGlyphs" stroke="#FF8000">D:63.0504</text>
<text x="58.5" y="489.5" class="a12" fill="#606060" text-anchor="end">80</text>
<text x="58.5" y="539.5" class="a12" fill="#606060" text-anchor="end">60</text>
<text x="58.5" y="588.5" class="a12" fill="#606060" text-anchor="end">40</text>
<text x="35" y="648.5" class="c12" fill="#555555" textLength="24" lengthAdjust="spacingAndGlyphs" stroke="#555555">日线</text>
<text x="65" y="648" class="a11" fill="#606060" textLength="35" lengthAdjust="spacingAndGlyphs">200902</text>
<text x="172.5" y="648" class="a11" fill="#606060" textLength="12" lengthAdjust="spacingAndGlyphs">03</text>
<text x="333.5" y="648" class="a11" fill="#606060" textLength="12" lengthAdjust="spacingAndGlyphs">04</text>
<text x="488" y="648" class="a11" fill="#606060" textLength="12" lengthAdjust="spacingAndGlyphs">05</text>
<text x="634.5" y="648" class="a11" fill="#606060" textLength="12" lengthAdjust="spacingAndGlyphs">06</text>
<text x="788.5" y="648" class="a11" fill="#606060" textLength="12" lengthAdjust="spacingAndGlyphs">07</text>
<text x="943" y="648" class="a11" fill="#606060" textLength="12" lengthAdjust="spacingAndGlyphs">08</text>
<g fill="none" stroke="#6CB4FF" stroke-width="1" shape-rendering="crispEdges">
<rect x="967.5" y="3.5" width="15" height="13"/>
<rect x="984.5" y="3.5" width="15" height="13"/>
<rect x="1004.5" y="3.5" width="15" height="13"/>
</g>
<g fill="none" stroke="#6CB4FF" stroke-width="1">
<path d="M969.5 9.5l4.5-4.5v2.5h6.5v4h-6.5v2.5z"/>
<path d="M997.5 9.5l-4.5-4.5v2.5h-6.5v4h6.5v2.5z"/>
<path d="M1010.5 5.5h6v5h-3M1010.5 5.5v4M1010.5 6.5h6" />
<path d="M1007.5 9.5h6v5h-6zM1007.5 10.5h6"/>
</g>
<g shape-rendering="crispEdges">
<rect x="0" y="654" width="1024" height="1" fill="#808088"/>
<rect x="0" y="655" width="1024" height="9" fill="#C8D4F0"/>
<rect x="0" y="655" width="1" height="9" fill="#6A8AB8"/>
<rect x="833" y="655" width="82" height="9" fill="#0000FF"/>
<rect x="368" y="655" width="1" height="9" fill="#7F98C8"/>
<rect x="955" y="656" width="1" height="8" fill="#8090B0"/>
<rect x="986" y="656" width="1" height="8" fill="#8090B0"/>
</g>
<text x="1.5" y="666" class="cb12" fill="#0000FF" textLength="12" lengthAdjust="spacingAndGlyphs">沪</text>
<text x="25" y="664.9" class="b12" fill="#008000" textLength="43.5" lengthAdjust="spacingAndGlyphs">3403.01</text>
<text x="94.5" y="664.9" class="b12" fill="#008000" textLength="27" lengthAdjust="spacingAndGlyphs">-9.05</text>
<text x="131" y="664.9" class="b12" fill="#000000" textLength="30" lengthAdjust="spacingAndGlyphs">588.3</text>
<text x="161" y="665.8" class="cb12" fill="#000000" textLength="12" lengthAdjust="spacingAndGlyphs">亿</text>
<text x="189" y="666" class="cb12" fill="#0000FF" textLength="12" lengthAdjust="spacingAndGlyphs">深</text>
<text x="206.5" y="664.9" class="b12" fill="#008000" textLength="50" lengthAdjust="spacingAndGlyphs">13641.74</text>
<text x="276" y="664.9" class="b12" fill="#008000" textLength="33" lengthAdjust="spacingAndGlyphs">-28.98</text>
<text x="319.5" y="664.9" class="b12" fill="#000000" textLength="30" lengthAdjust="spacingAndGlyphs">307.5</text>
<text x="350" y="665.8" class="cb12" fill="#000000" textLength="12" lengthAdjust="spacingAndGlyphs">亿</text>
<g stroke="#003070" fill="none" stroke-width="1.4"><path d="M369.5 657.5H377L369.5 664M373.5 660.5L378 664M369.8 657v7M380 657.5h4.7V664M381 658.5l2 3"/></g>
<clipPath id="nc"><rect x="368" y="655" width="303" height="9"/></clipPath>
<text class="c13" fill="#000060" y="666.5" clip-path="url(#nc)"><tspan x="391" textLength="50" lengthAdjust="spacingAndGlyphs">市场快讯</tspan><tspan x="441">：</tspan><tspan x="450.5" textLength="86.5" lengthAdjust="spacingAndGlyphs">恒指即月期货升</tspan><tspan x="536.5" textLength="28" lengthAdjust="spacingAndGlyphs">0.9%</tspan><tspan x="565">；</tspan><tspan x="576" textLength="100" lengthAdjust="spacingAndGlyphs">后市观乎汇控业绩</tspan></text>
<path d="M840.75 656L836.5 665H845z" fill="#FFFF00"/>
<text x="848" y="666.7" class="b14" fill="#FFFF00" textLength="31.5" lengthAdjust="spacingAndGlyphs">2123</text>
<text x="918" y="665.8" class="b14" fill="#0000FF" textLength="17" lengthAdjust="spacingAndGlyphs">no</text>
<text x="935" y="665.8" class="b14" fill="#FF0000" textLength="8" lengthAdjust="spacingAndGlyphs">h</text>
<text x="943" y="665.8" class="b14" fill="#0000FF" textLength="8" lengthAdjust="spacingAndGlyphs">n</text>
<g fill="#0000FF"><path d="M961 656.5h9l-3.5 4.5v3h-2v-3z" fill="none" stroke="#0000FF" stroke-width="1.3"/><rect x="975" y="662" width="2" height="2"/><rect x="978" y="659" width="2" height="5"/><rect x="981" y="656" width="1.5" height="8"/></g>
<text x="990" y="666" class="a12" fill="#0000FF" textLength="30" lengthAdjust="spacingAndGlyphs">10:08</text>
</svg>
</body></html>
